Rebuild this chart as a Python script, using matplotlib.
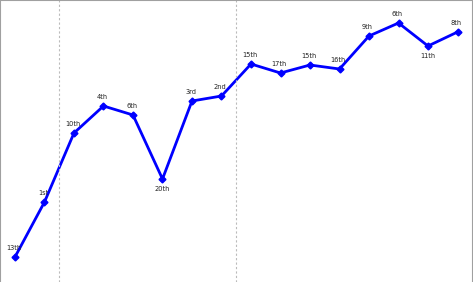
import matplotlib
matplotlib.use("Agg")
import matplotlib.pyplot as plt

# Finishing position for each round and the plotted score
labels = ["13th", "1st", "10th", "4th", "6th", "20th", "3rd", "2nd",
          "15th", "17th", "15th", "16th", "9th", "6th", "11th", "8th"]
values = [25, 80, 149, 176, 167, 103, 181, 186,
          218, 209, 217, 213, 246, 259, 236, 250]
below = [5, 14]  # indices whose label sits under the point
breaks = [1.5, 7.5]

fig = plt.figure(figsize=(4.73, 2.82), dpi=100)
ax = fig.add_axes([0, 0, 1, 1])

x = list(range(len(values)))
ax.plot(x, values, color="#0000ff", linewidth=2, marker="D", markersize=3.5)

for i, (yi, lab) in enumerate(zip(values, labels)):
    if i in below:
        ax.annotate(lab, (i, yi), xytext=(0, -5), textcoords="offset points",
                    ha="center", va="top", fontsize=4.8, color="#222222")
    else:
        ax.annotate(lab, (i, yi), xytext=(-1, 4.5), textcoords="offset points",
                    ha="center", va="bottom", fontsize=4.8, color="#222222")

for b in breaks:
    ax.axvline(b, color="#bbbbbb", linestyle=(0, (2, 2)), linewidth=0.8)

ax.set_xlim(-0.508, 15.525)
ax.set_ylim(0, 282)
ax.set_xticks([])
ax.set_yticks([])
for side in ["top", "left", "right"]:
    ax.spines[side].set_color("#a0a0a0")
    ax.spines[side].set_linewidth(1.5)
ax.spines["bottom"].set_visible(False)

plt.savefig("out.png", dpi=100)
